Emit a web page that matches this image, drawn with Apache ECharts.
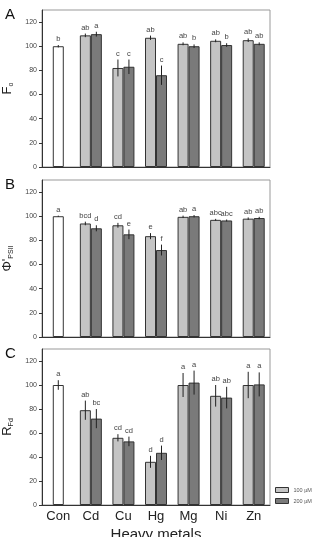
<!DOCTYPE html>
<html>
<head>
<meta charset="UTF-8">
<title>Heavy metals</title>
<script src="https://cdn.jsdelivr.net/npm/echarts@6/dist/echarts.min.js"></script>
<style>
  html, body { margin: 0; padding: 0; background: #fff; }
</style>
</head>
<body>
	<div id="container" style="width:313px;height:537px;"></div>
	<script type="text/javascript">
	// categories
	var metals = ['Con', 'Cd', 'Cu', 'Hg', 'Mg', 'Ni', 'Zn'];
	var yTicks = [0, 20, 40, 60, 80, 100, 120];

	// panel A - Fo  (first entry is the control, '-' where there is no bar)
	var aCon = [100, '-', '-', '-', '-', '-', '-'];
	var aConErr = [1, 0, 0, 0, 0, 0, 0];
	var aConTxt = ['b', '', '', '', '', '', ''];
	var aLow = ['-', 109, 82, 107, 102, 104.5, 105];
	var aLowErr = [0, 1.5, 7, 1.8, 1.2, 1.2, 1.5];
	var aLowTxt = ['', 'ab', 'c', 'ab', 'ab', 'ab', 'ab'];
	var aHigh = ['-', 110, 83, 76, 100, 101, 102];
	var aHighErr = [0, 2, 6, 8, 1.5, 1.5, 1.2];
	var aHighTxt = ['', 'a', 'c', 'c', 'b', 'b', 'ab'];

	// panel B - Φ'PSII
	var bCon = [100, '-', '-', '-', '-', '-', '-'];
	var bConErr = [0.5, 0, 0, 0, 0, 0, 0];
	var bConTxt = ['a', '', '', '', '', '', ''];
	var bLow = ['-', 94, 92.5, 83.5, 99.5, 97, 98];
	var bLowErr = [0, 1.5, 2, 2.5, 1, 0.8, 1];
	var bLowTxt = ['', 'bcd', 'cd', 'e', 'ab', 'abc', 'ab'];
	var bHigh = ['-', 90, 85, 72, 100, 96.5, 98.5];
	var bHighErr = [0, 2.5, 4, 4.5, 1, 0.8, 1];
	var bHighTxt = ['', 'd', 'e', 'f', 'a', 'abc', 'ab'];

	// panel C - RFd
	var cCon = [100, '-', '-', '-', '-', '-', '-'];
	var cConErr = [4, 0, 0, 0, 0, 0, 0];
	var cConTxt = ['a', '', '', '', '', '', ''];
	var cLow = ['-', 79, 56, 36, 100, 91, 100];
	var cLowErr = [0, 8, 3, 5, 10, 9, 11];
	var cLowTxt = ['', 'ab', 'cd', 'd', 'a', 'ab', 'a'];
	var cHigh = ['-', 72, 53, 43.5, 102, 89.5, 100.5];
	var cHighErr = [0, 8, 4, 6, 10, 9, 10];
	var cHighTxt = ['', 'bc', 'cd', 'd', 'a', 'ab', 'a'];

	var panels = [
		{ top: 10, height: 157, letter: 'A', name: 'F{s|o}', con: aCon, conErr: aConErr, conTxt: aConTxt,
		  low: aLow, lowErr: aLowErr, lowTxt: aLowTxt, high: aHigh, highErr: aHighErr, highTxt: aHighTxt },
		{ top: 180, height: 157, letter: 'B', name: '\u03A6\'{s|PSII}', con: bCon, conErr: bConErr, conTxt: bConTxt,
		  low: bLow, lowErr: bLowErr, lowTxt: bLowTxt, high: bHigh, highErr: bHighErr, highTxt: bHighTxt },
		{ top: 349, height: 156, letter: 'C', name: 'R{s|Fd}', con: cCon, conErr: cConErr, conTxt: cConTxt,
		  low: cLow, lowErr: cLowErr, lowTxt: cLowTxt, high: cHigh, highErr: cHighErr, highTxt: cHighTxt }
	];

	var BAR_W = 11;
	var FONT = 'Liberation Sans';

	function errData(vals, errs, txts, shift) {
		var out = [];
		for (var i = 0; i < vals.length; i++) {
			if (vals[i] === '-') continue;
			out.push([i, vals[i], errs[i], txts[i], shift]);
		}
		return out;
	}

	function renderErr(params, api) {
		var x = api.value(0), v = api.value(1), e = api.value(2);
		var txt = api.value(3), shift = api.value(4);
		var top = api.coord([x, v + e]);
		var bot = api.coord([x, v - e]);
		var cx = top[0] + shift * BAR_W / 2;
		return {
			type: 'group',
			children: [
				{ type: 'line', shape: { x1: cx, y1: top[1], x2: cx, y2: bot[1] },
				  style: { stroke: '#222', lineWidth: 1 } },
				{ type: 'text', x: cx, y: top[1] - 2,
				  style: { text: txt, fill: '#444', font: '7.5px ' + FONT, align: 'center', verticalAlign: 'bottom' } }
			]
		};
	}

	var grid = [], xAxis = [], yAxis = [], series = [], graphic = [];
	panels.forEach(function (p, k) {
		var last = (k === panels.length - 1);
		grid.push({ left: 42, width: 228, top: p.top, height: p.height, outerBoundsMode: 'none',
			show: true, borderColor: '#999', borderWidth: 1, backgroundColor: '#fff' });
		xAxis.push({
			type: 'category', gridIndex: k, data: metals,
			axisLine: { lineStyle: { color: '#333', width: 1 } },
			axisTick: { show: false },
			axisLabel: { show: last, fontFamily: FONT, fontSize: 13, color: '#222', margin: 5 },
			name: last ? 'Heavy metals' : '', nameLocation: 'middle', nameGap: 22,
			nameTextStyle: { fontFamily: FONT, fontSize: 15, color: '#222' }
		});
		xAxis.push({ type: 'category', gridIndex: k, data: metals, show: false });
		yAxis.push({
			type: 'value', gridIndex: k, min: 0, max: 130, interval: 20,
			splitLine: { show: false },
			axisLine: { show: true, lineStyle: { color: '#333', width: 1 } },
			axisTick: { show: true, length: 3, lineStyle: { color: '#333' }, customValues: yTicks },
			axisLabel: { fontFamily: FONT, fontSize: 7, color: '#444', margin: 5, customValues: yTicks },
			name: p.name, nameLocation: 'middle', nameRotate: 90, nameGap: 24,
			nameTextStyle: {
				fontFamily: FONT, fontSize: 13, color: '#222',
				rich: { s: { fontFamily: FONT, fontSize: 7, color: '#222', padding: [6, 0, 0, 0] } }
			}
		});
		var ax = 2 * k, axC = 2 * k + 1;
		series.push({ type: 'bar', name: 'Con', xAxisIndex: axC, yAxisIndex: k, data: p.con,
			barWidth: BAR_W, itemStyle: { color: '#fff', borderColor: '#333', borderWidth: 1 } });
		series.push({ type: 'bar', name: '100 \u00B5M', xAxisIndex: ax, yAxisIndex: k, data: p.low,
			barWidth: BAR_W, barGap: '0%', itemStyle: { color: '#c4c4c4', borderColor: '#333', borderWidth: 1 } });
		series.push({ type: 'bar', name: '200 \u00B5M', xAxisIndex: ax, yAxisIndex: k, data: p.high,
			barWidth: BAR_W, barGap: '0%', itemStyle: { color: '#7a7a7a', borderColor: '#333', borderWidth: 1 } });
		series.push({ type: 'custom', xAxisIndex: ax, yAxisIndex: k, z: 5, renderItem: renderErr,
			data: errData(p.con, p.conErr, p.conTxt, 0)
				.concat(errData(p.low, p.lowErr, p.lowTxt, -1))
				.concat(errData(p.high, p.highErr, p.highTxt, 1)) });
		graphic.push({ type: 'text', left: 5, top: p.top - 3,
			style: { text: p.letter, font: '15px ' + FONT, fill: '#111' } });
	});

	var myChart = echarts.init(document.getElementById('container'), null, { renderer: 'canvas' });
	var option = {
		animation: false,
		textStyle: { fontFamily: FONT },
		grid: grid,
		xAxis: xAxis,
		yAxis: yAxis,
		legend: {
			data: ['100 \u00B5M', '200 \u00B5M'],
			orient: 'vertical', left: 275, top: 487, padding: 0,
			itemWidth: 13, itemHeight: 5, itemGap: 5, icon: 'rect',
			itemStyle: { borderColor: '#333', borderWidth: 1 },
			textStyle: { fontFamily: FONT, fontSize: 5.5, color: '#555' }
		},
		graphic: graphic,
		series: series
	};
	myChart.setOption(option, true);
	</script>
</body>
</html>
